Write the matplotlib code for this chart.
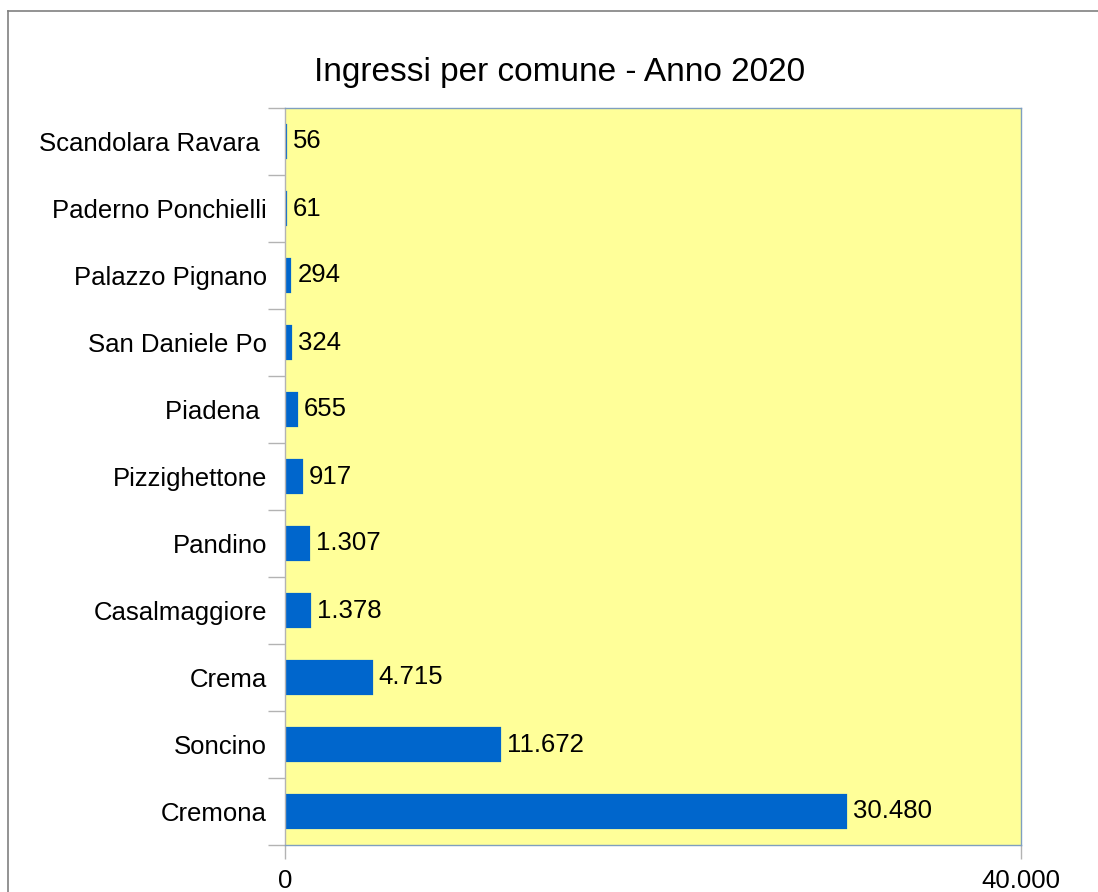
import matplotlib
matplotlib.use("Agg")
import matplotlib.pyplot as plt
from matplotlib.lines import Line2D

plt.rcParams['font.family'] = ['Liberation Sans', 'DejaVu Sans']

comuni = ["Cremona", "Soncino", "Crema", "Casalmaggiore", "Pandino", "Pizzighettone",
          "Piadena ", "San Daniele Po", "Palazzo Pignano", "Paderno Ponchielli", "Scandolara Ravara "]
ingressi = [30480, 11672, 4715, 1378, 1307, 917, 655, 324, 294, 61, 56]
x_ticks = [0, 40000]
x_tick_labels = ["0", "40.000"]
title = "Ingressi per comune - Anno 2020"

def fmt(v):
    return f"{v:,}".replace(",", ".")

fig = plt.figure(figsize=(10.98, 8.92), dpi=100)
ax = fig.add_axes([285/1098, 1-845/892, (1021-285)/1098, (845-108)/892])
ax.set_facecolor("#ffff99")

ypos = list(range(len(comuni)))
ax.barh(ypos, ingressi, height=0.5, color="#0066cc", edgecolor="#0066cc",
        linewidth=1.6, zorder=2)
ax.set_xlim(0, 40000)
ax.set_ylim(-0.5, len(comuni) - 0.5)

for y, v in zip(ypos, ingressi):
    ax.annotate(fmt(v), (v, y), xytext=(5, 0), textcoords="offset points",
                va="center", ha="left", fontsize=18.5, color="black")

ax.set_yticks(ypos)
ax.set_yticklabels(comuni, fontsize=18.5)
ax.set_yticks([i - 0.5 for i in range(len(comuni) + 1)], minor=True)
ax.tick_params(axis="y", which="major", length=0, pad=13)
ax.tick_params(axis="y", which="minor", length=12, color="#b3b3b3", width=1)
ax.set_xticks(x_ticks)
ax.set_xticklabels(x_tick_labels, fontsize=18.5)
ax.tick_params(axis="x", length=10, color="#b3b3b3", width=1, pad=7)
for s in ax.spines.values():
    s.set_color("#7f9fbf")
    s.set_linewidth(1)
ax.spines["left"].set_color("#b3b3b3")

fig.text(560/1098, 1-72/892, title, ha="center", va="center", fontsize=24)

fig.add_artist(Line2D([8/1098, 8/1098], [0, 1-11/892], transform=fig.transFigure, color="#808080", lw=1.2))
fig.add_artist(Line2D([8/1098, 1], [1-11/892, 1-11/892], transform=fig.transFigure, color="#808080", lw=1.2))

fig.savefig("out.png", dpi=100)
